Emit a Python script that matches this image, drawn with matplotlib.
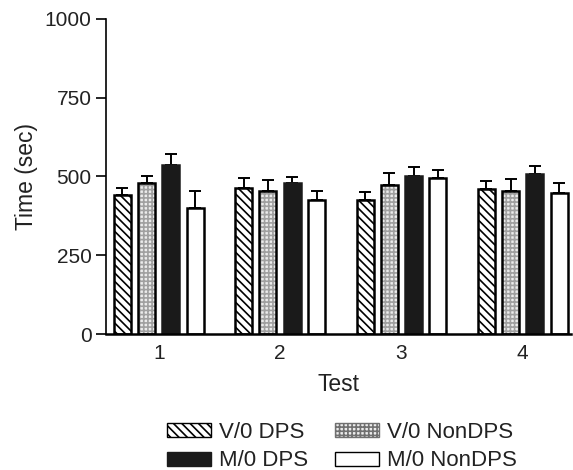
import matplotlib
matplotlib.use("Agg")
import matplotlib.pyplot as plt
from matplotlib.patches import Patch
import numpy as np

plt.rcParams['font.family'] = ['Liberation Sans', 'DejaVu Sans']
plt.rcParams['hatch.linewidth'] = 1.2

tests = ["1", "2", "3", "4"]
groups = ["V/0 DPS", "V/0 NonDPS", "M/0 DPS", "M/0 NonDPS"]
means = {
    "V/0 DPS":    [442, 463, 427, 459],
    "V/0 NonDPS": [478, 455, 472, 455],
    "M/0 DPS":    [537, 480, 500, 509],
    "M/0 NonDPS": [399, 424, 495, 447],
}
sems = {
    "V/0 DPS":    [21, 32, 25, 26],
    "V/0 NonDPS": [23, 33, 39, 36],
    "M/0 DPS":    [34, 19, 30, 25],
    "M/0 NonDPS": [55, 29, 25, 32],
}

fig = plt.figure(figsize=(5.73, 4.70), dpi=100)
ax = fig.add_axes([0.185, 0.289, 0.812, 0.671])

x = np.arange(1, len(tests) + 1)
width = 0.14
offsets = [-0.3, -0.1, 0.1, 0.3]
lw = 1.8
txt = '#222222'

styles = {
    "V/0 DPS":    dict(facecolor='white', edgecolor='black', hatch='\\\\\\\\'),
    "V/0 NonDPS": dict(facecolor='#ececec', edgecolor='#a0a0a0', hatch='++++'),
    "M/0 DPS":    dict(facecolor='#1a1a1a', edgecolor='#1a1a1a'),
    "M/0 NonDPS": dict(facecolor='white', edgecolor='black'),
}

for g, off in zip(groups, offsets):
    xs = x + off
    m = means[g]
    e = sems[g]
    ax.errorbar(xs, m, yerr=[np.zeros(len(e)), e], fmt='none', ecolor='black',
                elinewidth=1.4, capsize=4, capthick=1.4, zorder=1)
    st = styles[g]
    if g == "V/0 NonDPS":
        ax.bar(xs, m, width, linewidth=0, zorder=2, **st)
        ax.bar(xs, m, width, facecolor='none', edgecolor='black', linewidth=lw, zorder=3)
    else:
        ax.bar(xs, m, width, linewidth=lw, zorder=2, **st)

ax.set_xlim(0.565, 4.4)
ax.set_ylim(0, 1000)
ax.set_yticks([0, 250, 500, 750, 1000])
ax.set_xticks(x)
ax.set_xticklabels(tests)
ax.tick_params(axis='x', length=0, labelsize=15, pad=7, colors=txt)
ax.tick_params(axis='y', length=7.5, width=1.2, labelsize=15, pad=3, colors=txt)
ax.tick_params(axis='both', color='black')
ax.spines['top'].set_visible(False)
ax.spines['right'].set_visible(False)
ax.spines['left'].set_linewidth(1.2)
ax.spines['bottom'].set_linewidth(1.8)
ax.set_xlabel("Test", fontsize=16.5, labelpad=7, color=txt)
ax.set_ylabel("Time (sec)", fontsize=16.5, labelpad=5, color=txt)

handles = {}
for g in groups:
    handles[g] = Patch(linewidth=1.0, **styles[g])
handles["V/0 NonDPS"] = Patch(linewidth=1.0, facecolor='#ececec', edgecolor='#707070', hatch='++++')
order = ["V/0 DPS", "M/0 DPS", "V/0 NonDPS", "M/0 NonDPS"]
fig.legend([handles[g] for g in order], order, loc='center', bbox_to_anchor=(0.597, 0.05), ncol=2,
           frameon=False, fontsize=16, handlelength=2.0, handleheight=0.6,
           columnspacing=1.2, handletextpad=0.36, labelspacing=0.36, labelcolor=txt)

fig.savefig("out.png", dpi=100)
